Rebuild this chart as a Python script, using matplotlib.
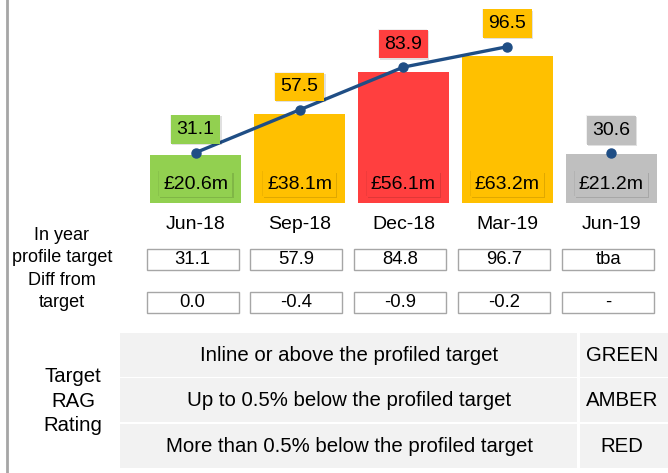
import numpy as np
import matplotlib
matplotlib.use("Agg")
import matplotlib.pyplot as plt
import matplotlib.patheffects as pe
from matplotlib.patches import Rectangle
from matplotlib.transforms import blended_transform_factory

plt.rcParams['font.family'] = ['Liberation Sans', 'DejaVu Sans']

# ---- data ----
categories = ["Jun-18", "Sep-18", "Dec-18", "Mar-19", "Jun-19"]
spend_m = [20.6, 38.1, 56.1, 63.2, 21.2]          # bars (£m)
actual_pct = [31.1, 57.5, 83.9, 96.5, 30.6]        # line points
rag = ["GREEN", "AMBER", "RED", "AMBER", "GREY"]
profile_target = ["31.1", "57.9", "84.8", "96.7", "tba"]
diff_from_target = ["0.0", "-0.4", "-0.9", "-0.2", "-"]
rag_rules = ["Inline or above the profiled target",
             "Up to 0.5% below the profiled target",
             "More than 0.5% below the profiled target"]
rag_names = ["GREEN", "AMBER", "RED"]

rag_colors = {"GREEN": "#92D050", "AMBER": "#FFC000", "RED": "#FF3F3F", "GREY": "#BFBFBF"}
line_color = "#1F4E85"
FS = 14

W, H = 668, 473
fig = plt.figure(figsize=(W / 100, H / 100), dpi=100)

# overlay axes in pixel coordinates (y down)
ov = fig.add_axes([0, 0, 1, 1], zorder=0)
ov.set_xlim(0, W)
ov.set_ylim(H, 0)
ov.axis("off")

# chart axes
base_y = 203
left_px, right_px = 143.7, 663.3
ax = fig.add_axes([left_px / W, (H - base_y) / H, (right_px - left_px) / W, base_y / H], zorder=2)
ax.patch.set_alpha(0)
x = np.arange(len(categories))
colors = [rag_colors[r] for r in rag]
ax.bar(x, spend_m, width=0.87, color=colors, zorder=1)
ax.set_xlim(-0.5, len(categories) - 0.5)
ax.set_ylim(0, base_y / 2.33)
for s in ax.spines.values():
    s.set_visible(False)
ax.set_yticks([])
ax.set_xticks(x, categories, fontsize=FS)
ax.tick_params(axis="x", length=0, pad=9.5)

ax2 = ax.twinx()
ax2.set_ylim(0, base_y / 1.62)
ax2.set_yticks([])
for s in ax2.spines.values():
    s.set_visible(False)
ax2.plot(x[:4], actual_pct[:4], color=line_color, lw=2.4, zorder=3)
ax2.plot(x, actual_pct, 'o', color=line_color, ms=6.5, zorder=4)

shadow = [pe.SimplePatchShadow(offset=(0.8, -0.8), shadow_rgbFace="k", alpha=0.12),
          pe.SimplePatchShadow(offset=(-0.6, 0.6), shadow_rgbFace="k", alpha=0.06),
          pe.Normal()]

for xi, v, c in zip(x, actual_pct, colors):
    t = ax2.annotate(f"{v:.1f}", (xi, v), xytext=(0, 16.5), textcoords="offset points",
                     ha="center", va="center", fontsize=FS, zorder=5,
                     bbox=dict(boxstyle="square,pad=0.3", fc=c, ec="none"))
    t.get_bbox_patch().set_path_effects(shadow)

for xi, v, c in zip(x, spend_m, colors):
    t = ax.annotate(f"£{v:.1f}m", (xi, 0), xytext=(0, 13.5), textcoords="offset points",
                    ha="center", va="center", fontsize=FS, zorder=5,
                    bbox=dict(boxstyle="square,pad=0.22", fc=c, ec="none"))
    t.get_bbox_patch().set_path_effects(shadow)

# ---- table of targets ----
tr = blended_transform_factory(ax.transData, ov.transData)
box_w = 0.885
box_off = -0.03
rows = [(profile_target, 248.5, 270), (diff_from_target, 292, 312.5)]
for vals, y0, y1 in rows:
    for xi, v in zip(x, vals):
        ov.add_patch(Rectangle((xi + box_off - box_w / 2, y0), box_w, y1 - y0, transform=tr,
                               fc="white", ec="#A6A6A6", lw=1.0))
        ov.text(xi + box_off, (y0 + y1) / 2 + 0.5, v, transform=tr, ha="center", va="center", fontsize=13.3)

for txt, yy in [("In year", 235), ("profile target", 257), ("Diff from", 280), ("target", 302)]:
    ov.text(62, yy, txt, ha="center", va="center", fontsize=13)

# ---- RAG rating table ----
FS2 = 14.7
row_tops = [333, 378, 424]
row_h = 44
for i, (rule, name) in enumerate(zip(rag_rules, rag_names)):
    y0 = row_tops[i]
    ov.add_patch(Rectangle((120, y0), 457, row_h, fc="#F2F2F2", ec="none"))
    ov.add_patch(Rectangle((579.5, y0), 88, row_h, fc="#F2F2F2", ec="none"))
    ov.text(349, y0 + row_h / 2, rule, ha="center", va="center", fontsize=FS2)
    ov.text(622, y0 + row_h / 2, name, ha="center", va="center", fontsize=FS2)

for txt, yy in [("Target", 376), ("RAG", 401), ("Rating", 425)]:
    ov.text(73, yy, txt, ha="center", va="center", fontsize=FS2)

ov.plot([7, 7], [0, H], color="#A6A6A6", lw=2)

fig.savefig("out.png", dpi=100)
